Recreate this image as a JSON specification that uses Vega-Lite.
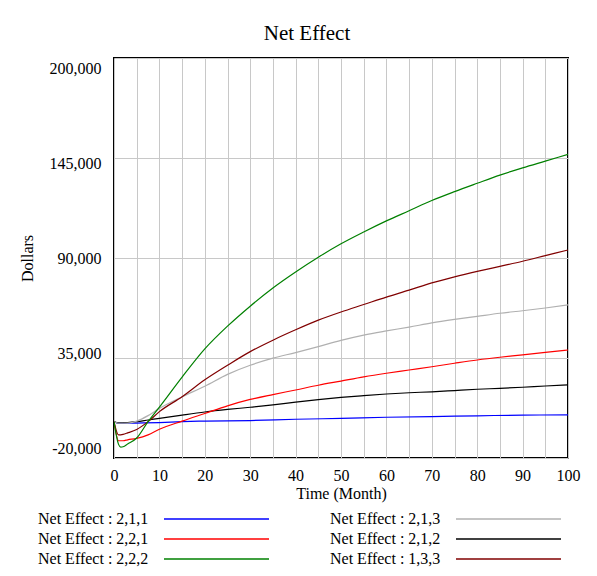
{
  "$schema": "https://vega.github.io/schema/vega-lite/v6.json",
  "autosize": {"type": "none"},
  "padding": {"left": 114, "top": 58, "right": 29, "bottom": 118},
  "width": 454,
  "height": 400,
  "background": "white",
  "title": {"text": "Net Effect", "font": "Liberation Serif", "fontSize": 21, "fontWeight": "normal", "color": "black", "anchor": "middle", "frame": "group", "dx": -34, "offset": 14},
  "datasets": {
    "series": [
      {"s": "Net Effect : 2,1,1", "t": 0, "v": 0}, {"s": "Net Effect : 2,1,1", "t": 1, "v": -1000}, {"s": "Net Effect : 2,1,1", "t": 3, "v": -900}, {"s": "Net Effect : 2,1,1", "t": 5, "v": -800}, {"s": "Net Effect : 2,1,1", "t": 10, "v": -500}, {"s": "Net Effect : 2,1,1", "t": 15, "v": 0}, {"s": "Net Effect : 2,1,1", "t": 20, "v": 300}, {"s": "Net Effect : 2,1,1", "t": 30, "v": 600}, {"s": "Net Effect : 2,1,1", "t": 40, "v": 1300}, {"s": "Net Effect : 2,1,1", "t": 50, "v": 1800}, {"s": "Net Effect : 2,1,1", "t": 60, "v": 2400}, {"s": "Net Effect : 2,1,1", "t": 70, "v": 2800}, {"s": "Net Effect : 2,1,1", "t": 80, "v": 3200}, {"s": "Net Effect : 2,1,1", "t": 90, "v": 3600}, {"s": "Net Effect : 2,1,1", "t": 100, "v": 3700},

      {"s": "Net Effect : 2,1,2", "t": 0, "v": 0}, {"s": "Net Effect : 2,1,2", "t": 1, "v": -700}, {"s": "Net Effect : 2,1,2", "t": 3, "v": -500}, {"s": "Net Effect : 2,1,2", "t": 5, "v": 0}, {"s": "Net Effect : 2,1,2", "t": 7.5, "v": 900}, {"s": "Net Effect : 2,1,2", "t": 10, "v": 1800}, {"s": "Net Effect : 2,1,2", "t": 15, "v": 3600}, {"s": "Net Effect : 2,1,2", "t": 20, "v": 5300}, {"s": "Net Effect : 2,1,2", "t": 25, "v": 6700}, {"s": "Net Effect : 2,1,2", "t": 30, "v": 7900}, {"s": "Net Effect : 2,1,2", "t": 35, "v": 9200}, {"s": "Net Effect : 2,1,2", "t": 40, "v": 10700}, {"s": "Net Effect : 2,1,2", "t": 45, "v": 12100}, {"s": "Net Effect : 2,1,2", "t": 50, "v": 13300}, {"s": "Net Effect : 2,1,2", "t": 55, "v": 14300}, {"s": "Net Effect : 2,1,2", "t": 60, "v": 15200}, {"s": "Net Effect : 2,1,2", "t": 65, "v": 15900}, {"s": "Net Effect : 2,1,2", "t": 70, "v": 16400}, {"s": "Net Effect : 2,1,2", "t": 75, "v": 17100}, {"s": "Net Effect : 2,1,2", "t": 80, "v": 17800}, {"s": "Net Effect : 2,1,2", "t": 85, "v": 18300}, {"s": "Net Effect : 2,1,2", "t": 90, "v": 18900}, {"s": "Net Effect : 2,1,2", "t": 95, "v": 19600}, {"s": "Net Effect : 2,1,2", "t": 100, "v": 20200},

      {"s": "Net Effect : 2,2,1", "t": 0, "v": 0}, {"s": "Net Effect : 2,2,1", "t": 1, "v": -10500}, {"s": "Net Effect : 2,2,1", "t": 2, "v": -10500}, {"s": "Net Effect : 2,2,1", "t": 3, "v": -10000}, {"s": "Net Effect : 2,2,1", "t": 5, "v": -9200}, {"s": "Net Effect : 2,2,1", "t": 7.5, "v": -7300}, {"s": "Net Effect : 2,2,1", "t": 10, "v": -4200}, {"s": "Net Effect : 2,2,1", "t": 15, "v": 300}, {"s": "Net Effect : 2,2,1", "t": 20, "v": 4500}, {"s": "Net Effect : 2,2,1", "t": 25, "v": 8700}, {"s": "Net Effect : 2,2,1", "t": 30, "v": 12200}, {"s": "Net Effect : 2,2,1", "t": 35, "v": 14900}, {"s": "Net Effect : 2,2,1", "t": 40, "v": 17400}, {"s": "Net Effect : 2,2,1", "t": 45, "v": 20000}, {"s": "Net Effect : 2,2,1", "t": 50, "v": 22300}, {"s": "Net Effect : 2,2,1", "t": 55, "v": 24600}, {"s": "Net Effect : 2,2,1", "t": 60, "v": 26600}, {"s": "Net Effect : 2,2,1", "t": 65, "v": 28400}, {"s": "Net Effect : 2,2,1", "t": 70, "v": 30200}, {"s": "Net Effect : 2,2,1", "t": 75, "v": 32100}, {"s": "Net Effect : 2,2,1", "t": 80, "v": 33900}, {"s": "Net Effect : 2,2,1", "t": 85, "v": 35400}, {"s": "Net Effect : 2,2,1", "t": 90, "v": 36700}, {"s": "Net Effect : 2,2,1", "t": 95, "v": 38100}, {"s": "Net Effect : 2,2,1", "t": 100, "v": 39400},

      {"s": "Net Effect : 2,1,3", "t": 0, "v": 0}, {"s": "Net Effect : 2,1,3", "t": 1, "v": -900}, {"s": "Net Effect : 2,1,3", "t": 3, "v": -800}, {"s": "Net Effect : 2,1,3", "t": 5, "v": 300}, {"s": "Net Effect : 2,1,3", "t": 7.5, "v": 3300}, {"s": "Net Effect : 2,1,3", "t": 10, "v": 7300}, {"s": "Net Effect : 2,1,3", "t": 15, "v": 13700}, {"s": "Net Effect : 2,1,3", "t": 20, "v": 19500}, {"s": "Net Effect : 2,1,3", "t": 25, "v": 26000}, {"s": "Net Effect : 2,1,3", "t": 30, "v": 31000}, {"s": "Net Effect : 2,1,3", "t": 35, "v": 34900}, {"s": "Net Effect : 2,1,3", "t": 40, "v": 38000}, {"s": "Net Effect : 2,1,3", "t": 45, "v": 41300}, {"s": "Net Effect : 2,1,3", "t": 50, "v": 44700}, {"s": "Net Effect : 2,1,3", "t": 55, "v": 47600}, {"s": "Net Effect : 2,1,3", "t": 60, "v": 49900}, {"s": "Net Effect : 2,1,3", "t": 65, "v": 52000}, {"s": "Net Effect : 2,1,3", "t": 70, "v": 54300}, {"s": "Net Effect : 2,1,3", "t": 75, "v": 56200}, {"s": "Net Effect : 2,1,3", "t": 80, "v": 57900}, {"s": "Net Effect : 2,1,3", "t": 85, "v": 59600}, {"s": "Net Effect : 2,1,3", "t": 90, "v": 61000}, {"s": "Net Effect : 2,1,3", "t": 95, "v": 62500}, {"s": "Net Effect : 2,1,3", "t": 100, "v": 64200},

      {"s": "Net Effect : 1,3,3", "t": 0, "v": 0}, {"s": "Net Effect : 1,3,3", "t": 1, "v": -7300}, {"s": "Net Effect : 1,3,3", "t": 2, "v": -7000}, {"s": "Net Effect : 1,3,3", "t": 3, "v": -6200}, {"s": "Net Effect : 1,3,3", "t": 5, "v": -4300}, {"s": "Net Effect : 1,3,3", "t": 7.5, "v": 0}, {"s": "Net Effect : 1,3,3", "t": 10, "v": 5500}, {"s": "Net Effect : 1,3,3", "t": 15, "v": 13700}, {"s": "Net Effect : 1,3,3", "t": 20, "v": 23000}, {"s": "Net Effect : 1,3,3", "t": 25, "v": 31000}, {"s": "Net Effect : 1,3,3", "t": 30, "v": 38500}, {"s": "Net Effect : 1,3,3", "t": 35, "v": 44800}, {"s": "Net Effect : 1,3,3", "t": 40, "v": 50500}, {"s": "Net Effect : 1,3,3", "t": 45, "v": 55800}, {"s": "Net Effect : 1,3,3", "t": 50, "v": 60300}, {"s": "Net Effect : 1,3,3", "t": 55, "v": 64400}, {"s": "Net Effect : 1,3,3", "t": 60, "v": 68500}, {"s": "Net Effect : 1,3,3", "t": 65, "v": 72300}, {"s": "Net Effect : 1,3,3", "t": 70, "v": 76300}, {"s": "Net Effect : 1,3,3", "t": 75, "v": 79600}, {"s": "Net Effect : 1,3,3", "t": 80, "v": 82600}, {"s": "Net Effect : 1,3,3", "t": 85, "v": 85400}, {"s": "Net Effect : 1,3,3", "t": 90, "v": 88200}, {"s": "Net Effect : 1,3,3", "t": 95, "v": 91300}, {"s": "Net Effect : 1,3,3", "t": 100, "v": 94400},

      {"s": "Net Effect : 2,2,2", "t": 0, "v": 0}, {"s": "Net Effect : 2,2,2", "t": 1, "v": -12500}, {"s": "Net Effect : 2,2,2", "t": 1.5, "v": -14000}, {"s": "Net Effect : 2,2,2", "t": 2, "v": -13800}, {"s": "Net Effect : 2,2,2", "t": 3, "v": -12300}, {"s": "Net Effect : 2,2,2", "t": 5, "v": -9000}, {"s": "Net Effect : 2,2,2", "t": 7.5, "v": 0}, {"s": "Net Effect : 2,2,2", "t": 10, "v": 8000}, {"s": "Net Effect : 2,2,2", "t": 15, "v": 24500}, {"s": "Net Effect : 2,2,2", "t": 20, "v": 40000}, {"s": "Net Effect : 2,2,2", "t": 25, "v": 52500}, {"s": "Net Effect : 2,2,2", "t": 30, "v": 63500}, {"s": "Net Effect : 2,2,2", "t": 35, "v": 73500}, {"s": "Net Effect : 2,2,2", "t": 40, "v": 82300}, {"s": "Net Effect : 2,2,2", "t": 45, "v": 90400}, {"s": "Net Effect : 2,2,2", "t": 50, "v": 97800}, {"s": "Net Effect : 2,2,2", "t": 55, "v": 104300}, {"s": "Net Effect : 2,2,2", "t": 60, "v": 110400}, {"s": "Net Effect : 2,2,2", "t": 65, "v": 116000}, {"s": "Net Effect : 2,2,2", "t": 70, "v": 121600}, {"s": "Net Effect : 2,2,2", "t": 75, "v": 126500}, {"s": "Net Effect : 2,2,2", "t": 80, "v": 131100}, {"s": "Net Effect : 2,2,2", "t": 85, "v": 135600}, {"s": "Net Effect : 2,2,2", "t": 90, "v": 139600}, {"s": "Net Effect : 2,2,2", "t": 95, "v": 143300}, {"s": "Net Effect : 2,2,2", "t": 100, "v": 147000}
    ]
  },
  "data": {"name": "series"},
  "mark": {"type": "line", "strokeWidth": 1.2, "clip": true, "interpolate": "monotone"},
  "encoding": {
    "x": {
      "field": "t", "type": "quantitative",
      "scale": {"domain": [0, 100], "nice": false, "zero": false},
      "axis": {
        "title": "Time (Month)",
        "values": [0, 5, 10, 15, 20, 25, 30, 35, 40, 45, 50, 55, 60, 65, 70, 75, 80, 85, 90, 95, 100],
        "labelExpr": "datum.value % 10 == 0 ? datum.label : ''",
        "labelFlush": false,
        "labelPadding": 9,
        "titlePadding": 2
      }
    },
    "y": {
      "field": "v", "type": "quantitative",
      "scale": {"domain": [-20000, 200000], "nice": false, "zero": false},
      "axis": {
        "title": "Dollars",
        "values": [-20000, 35000, 90000, 145000, 200000],
        "format": ",.0f",
        "labelExpr": "replace(datum.label, '\u2212', '-')",
        "labelFlush": false,
        "labelPadding": 13,
        "labelOffset": {"expr": "(datum.value - 90000) / 11000"},
        "titlePadding": 14
      }
    },
    "color": {
      "field": "s", "type": "nominal",
      "scale": {
        "domain": ["Net Effect : 2,1,1", "Net Effect : 2,2,1", "Net Effect : 2,2,2", "Net Effect : 2,1,3", "Net Effect : 2,1,2", "Net Effect : 1,3,3"],
        "range": ["#0000ff", "#ff0000", "#008000", "#b0b0b0", "#000000", "#800000"]
      },
      "legend": {
        "title": null,
        "orient": "none",
        "legendX": -79,
        "legendY": 453,
        "columns": 2,
        "columnPadding": 55,
        "rowPadding": 4,
        "symbolType": "M25,0H46",
        "symbolSize": 100,
        "symbolStrokeWidth": 1.5,
        "symbolOffset": -4,
        "labelOffset": -9,
        "labelFont": "Liberation Serif",
        "labelFontSize": 16,
        "labelColor": "black",
        "labelLimit": 0,
        "padding": 0
      }
    }
  },
  "config": {
    "view": {"stroke": "black", "strokeWidth": 2},
    "axis": {
      "domain": false,
      "ticks": false,
      "tickSize": 0,
      "grid": true,
      "gridColor": "#c8c8c8",
      "gridWidth": 1,
      "gridOpacity": 1,
      "labelFont": "Liberation Serif",
      "labelFontSize": 16,
      "labelColor": "black",
      "titleFont": "Liberation Serif",
      "titleFontSize": 16,
      "titleFontWeight": "normal",
      "titleColor": "black"
    }
  }
}
